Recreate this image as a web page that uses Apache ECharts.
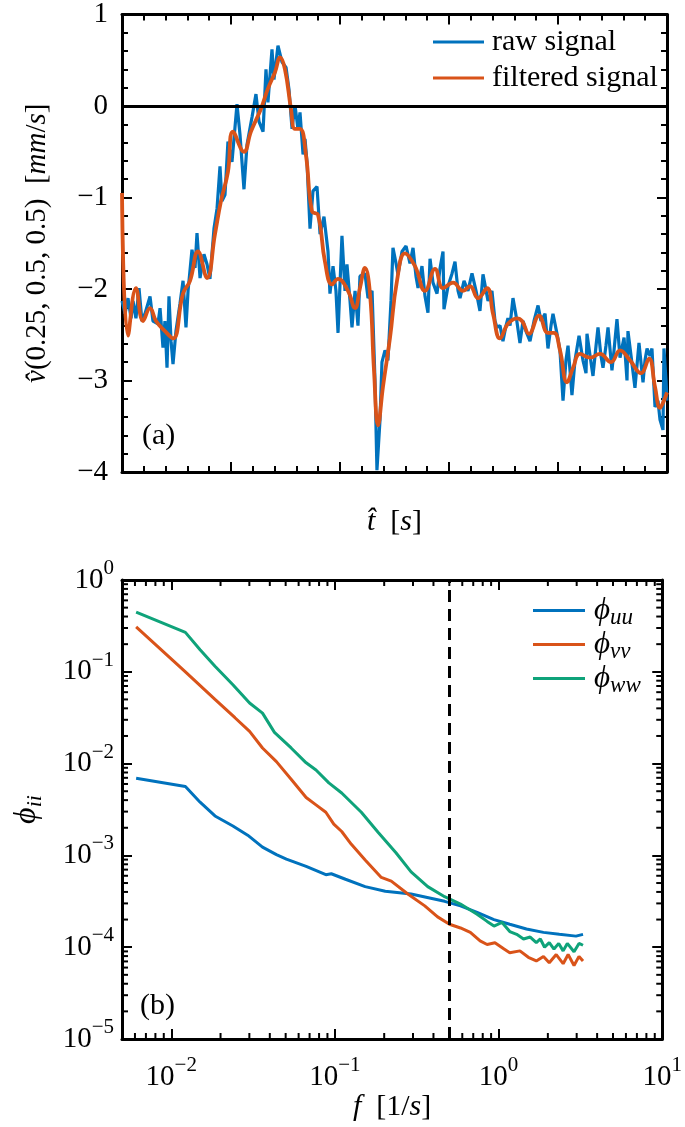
<!DOCTYPE html>
<html><head><meta charset="utf-8">
<script src="https://cdn.jsdelivr.net/npm/echarts@6/dist/echarts.min.js"></script>
<style>html,body{margin:0;padding:0;background:#fff}#c{width:685px;height:1127px}</style>
</head><body><div id="c"></div><script>
// ---- panel (a): time signal ----
const rawT = [0,0.28,0.55,0.83,1.01,1.28,1.56,1.83,2.11,2.57,2.84,3.30,3.49,3.76,3.94,4.13,4.31,4.50,4.68,4.95,5.32,5.60,5.87,6.06,6.42,6.70,6.88,7.16,7.52,7.80,8.07,8.44,8.72,8.99,9.17,9.45,9.72,10.09,10.55,10.83,11.19,11.47,11.93,12.29,12.57,12.94,13.21,13.39,13.76,13.94,14.31,14.68,15.05,15.32,15.60,15.87,16.15,16.33,16.61,16.79,16.97,17.25,17.52,17.89,18.17,18.53,18.90,19.08,19.36,19.63,19.82,20.18,20.46,20.64,20.92,21.10,21.38,21.65,21.83,22.29,22.57,22.94,23.21,23.39,23.67,23.85,24.13,24.40,24.68,24.86,25.14,25.32,25.69,26.06,26.42,26.70,26.97,27.16,27.52,27.80,28.07,28.26,28.53,28.90,29.17,29.45,29.54,29.91,30.28,30.55,30.83,31.01,31.38,31.74,32.11,32.48,32.84,33.12,33.30,33.58,33.94,34.22,34.40,34.68,34.95,35.23,35.41,35.60,35.87,36.15,36.51,36.79,37.06,37.43,37.80,38.17,38.44,38.81,39.08,39.36,39.54,39.91,40.18,40.46,40.73,40.92,41.28,41.56,41.93,42.29,42.57,42.66,42.94,43.21,43.49,43.67,43.94,44.13,44.40,44.59,44.95,45.14,45.41,45.69,46.06,46.33,46.42,46.70,47.06,47.43,47.80,47.98,48.17,48.44,48.62,48.90,49.17,49.36,49.63,49.72,49.91,50.00];
const rawV = [-2.13,-2.27,-2.10,-2.32,-2.13,-2.32,-1.99,-2.35,-2.27,-2.08,-2.35,-2.38,-2.21,-2.64,-2.35,-2.86,-2.08,-2.57,-2.82,-2.46,-2.16,-1.91,-2.42,-2.02,-1.57,-1.77,-1.39,-1.88,-1.62,-1.73,-1.89,-1.34,-1.12,-0.66,-1.04,-0.97,-0.39,-0.61,0.02,-0.32,-0.91,-0.42,-0.12,0.13,-0.17,-0.28,0.40,0.04,0.62,0.29,0.66,0.48,0.42,0.18,-0.25,0.01,-0.26,-0.07,-0.53,-0.36,-0.61,-1.34,-0.93,-0.88,-1.40,-1.21,-1.59,-2.05,-1.75,-2.02,-2.48,-1.42,-2.02,-1.73,-2.13,-2.42,-2.02,-2.40,-1.86,-1.83,-2.10,-2.02,-3.00,-3.98,-3.43,-2.80,-2.67,-2.78,-2.13,-1.55,-1.72,-1.84,-1.59,-1.53,-1.72,-1.55,-1.86,-1.99,-1.75,-2.08,-2.26,-1.67,-1.93,-2.05,-1.78,-1.59,-2.22,-1.97,-1.83,-1.70,-2.02,-2.10,-1.91,-2.02,-1.83,-2.02,-2.24,-1.84,-1.84,-2.13,-2.02,-2.35,-2.42,-2.40,-2.57,-2.40,-2.32,-2.40,-2.10,-2.29,-2.59,-2.35,-2.46,-2.57,-2.35,-2.18,-2.35,-2.27,-2.65,-2.40,-2.27,-2.49,-2.67,-3.22,-2.78,-2.62,-3.16,-2.78,-2.51,-2.78,-2.92,-2.49,-2.73,-2.95,-2.62,-2.42,-2.73,-2.86,-2.62,-2.42,-2.89,-2.67,-2.33,-2.75,-2.53,-3.00,-2.46,-2.73,-3.08,-2.59,-3.02,-2.78,-2.65,-2.73,-2.65,-3.29,-3.22,-3.43,-3.54,-2.65,-3.00,-3.22];
const filtT = [0,0.55,1.28,1.93,2.57,3.12,3.94,4.68,5.60,6.24,6.97,7.80,8.53,9.08,9.72,10.18,11.19,11.83,12.75,13.39,14.04,14.50,14.95,15.50,15.87,16.33,16.88,17.43,17.98,18.62,19.27,19.82,20.73,21.38,21.83,22.29,22.75,23.12,23.49,23.94,24.59,25.23,25.96,26.88,27.80,28.72,29.45,30.37,31.28,31.93,32.66,33.49,34.04,34.68,35.41,36.24,36.70,37.34,38.26,39.08,39.63,40.18,40.83,41.38,42.02,42.94,43.85,44.86,45.69,46.61,47.61,48.35,48.90,49.36,49.72,50];
const filtV = [-0.95,-2.51,-1.99,-2.35,-2.21,-2.35,-2.46,-2.54,-2.05,-1.91,-1.59,-1.88,-1.40,-1.04,-0.72,-0.28,-0.50,-0.28,-0.03,0.19,0.37,0.53,0.40,-0.03,-0.25,-0.25,-0.54,-1.15,-1.19,-1.70,-1.95,-1.89,-2.02,-2.21,-1.99,-1.77,-2.05,-2.89,-3.49,-3.07,-2.53,-1.91,-1.61,-1.75,-2.02,-1.78,-1.99,-1.93,-2.02,-1.97,-2.10,-1.99,-2.27,-2.54,-2.38,-2.32,-2.35,-2.49,-2.29,-2.48,-2.48,-2.67,-3.02,-2.86,-2.71,-2.75,-2.71,-2.80,-2.67,-2.78,-2.92,-2.76,-3.07,-3.30,-3.22,-3.13];

// ---- panel (b): spectra ----
const fUU = [0.0061,0.0122,0.0150,0.0185,0.0238,0.0293,0.0361,0.0439,0.0505,0.0667,0.088,0.095,0.116,0.153,0.203,0.292,0.468,0.585,0.739,0.937,1.17,1.48,1.88,2.35,2.97,3.28];
const phiUU = [0.00692,0.00562,0.0038,0.00269,0.00209,0.00166,0.00123,0.00102,0.000912,0.000759,0.000617,0.000631,0.00055,0.000457,0.000407,0.00038,0.000316,0.000282,0.00024,0.0002,0.000178,0.000158,0.000145,0.000138,0.000132,0.000138];
const fVV = [0.0061,0.0122,0.0185,0.0245,0.0301,0.0361,0.0439,0.054,0.0667,0.0766,0.088,0.0984,0.110,0.126,0.153,0.192,0.221,0.279,0.354,0.424,0.501,0.585,0.672,0.771,0.851,0.95,1.08,1.17,1.35,1.52,1.70,1.88,2.04,2.25,2.48,2.66,2.89,3.10,3.28];
const phiVV = [0.309,0.100,0.0501,0.0316,0.0224,0.0148,0.0105,0.00676,0.00427,0.00355,0.00295,0.00219,0.00182,0.00132,0.000891,0.000575,0.000525,0.00038,0.000282,0.000214,0.000178,0.000162,0.000145,0.000117,0.000107,0.000112,0.0000955,0.0000871,0.0000912,0.0000776,0.0000708,0.0000794,0.0000676,0.0000832,0.0000661,0.0000832,0.0000631,0.0000794,0.0000708];
const fWW = [0.0061,0.0122,0.0150,0.0185,0.0238,0.0301,0.0361,0.0427,0.054,0.0667,0.0766,0.0918,0.110,0.145,0.184,0.236,0.292,0.369,0.468,0.585,0.739,0.851,0.937,1.05,1.17,1.29,1.42,1.56,1.70,1.80,1.91,2.04,2.18,2.33,2.48,2.63,2.89,3.10,3.28];
const phiWW = [0.447,0.269,0.174,0.115,0.0724,0.0457,0.0355,0.0219,0.0148,0.0102,0.00851,0.00617,0.00479,0.00295,0.00178,0.00107,0.000661,0.000457,0.000355,0.000295,0.000229,0.000191,0.00017,0.000186,0.000148,0.000138,0.000123,0.000129,0.000112,0.000123,0.0001,0.000112,0.0000955,0.00011,0.0000912,0.00011,0.0000891,0.00011,0.000105];
const cutoffF = 0.5;

// axis extents
const tMin = 0, tMax = 50, tStep = 10;
const vMin = -4, vMax = 1, vStep = 1;
const fMin = 0.005, fMax = 10;
const pMin = 1e-5, pMax = 1;

const F = '"Liberation Serif","DejaVu Serif",serif';
const FS = 29;
const C_BLUE = '#0072BD', C_ORANGE = '#D95319', C_GREEN = '#0FA37A';

const zip = (a, b) => a.map((x, i) => [x, b[i]]);

function powLabel(v) {
  const e = Math.log10(v), r = Math.round(e);
  if (Math.abs(e - r) > 1e-6) return '';
  return '{b|10}{s|' + (r < 0 ? '\u2212' + (-r) : String(r)) + '}';
}
const powRich = {
  b: {fontSize: FS, fontFamily: F, color: '#000', lineHeight: 44, verticalAlign: 'middle'},
  s: {fontSize: 21, fontFamily: F, color: '#000', lineHeight: 44, verticalAlign: 'top'}
};

// minor tick values for log axes
function logMinor(lo, hi) {
  const out = [];
  for (let e = Math.floor(Math.log10(lo)); e <= Math.ceil(Math.log10(hi)); e++) {
    for (let k = 2; k <= 9; k++) {
      const v = parseFloat((k * Math.pow(10, e)).toPrecision(6));
      if (v > lo && v < hi) out.push(v);
    }
  }
  return out;
}
const minorData = logMinor(fMin, fMax).map(v => [v, pMin, 0])
  .concat(logMinor(pMin, pMax).map(v => [fMin, v, 1]));

function tickRender(params, api) {
  const kind = api.value(2), L = 6;
  const style = {stroke: '#000', lineWidth: 2};
  if (kind === 0) {
    const x = api.value(0);
    const b = api.coord([x, pMin]), t = api.coord([x, pMax]);
    return {type: 'group', children: [
      {type: 'line', shape: {x1: b[0], y1: b[1], x2: b[0], y2: b[1] - L}, style: style},
      {type: 'line', shape: {x1: t[0], y1: t[1], x2: t[0], y2: t[1] + L}, style: style}]};
  }
  const y = api.value(1);
  const l = api.coord([fMin, y]), r = api.coord([fMax, y]);
  return {type: 'group', children: [
    {type: 'line', shape: {x1: l[0], y1: l[1], x2: l[0] + L, y2: l[1]}, style: style},
    {type: 'line', shape: {x1: r[0], y1: r[1], x2: r[0] - L, y2: r[1]}, style: style}]};
}

const axisLine = {show: true, onZero: false, lineStyle: {color: '#000', width: 3}};
const axisTick = {show: true, inside: true, length: 10, lineStyle: {color: '#000', width: 2}};
const minorTick = {show: true, splitNumber: 5, length: 6, lineStyle: {color: '#000', width: 2}};
const noSplit = {show: false};
const minusFmt = v => (v < 0 ? '\u2212' + (-v) : String(v));
const lblStyle = {color: '#000', fontSize: FS, fontFamily: F};
const italic = {fontStyle: 'italic', fontSize: FS, fontFamily: F, color: '#000'};

const option = {
  animation: false,
  backgroundColor: '#fff',
  grid: [
    {left: 122, right: 18, top: 12, height: 460},
    {left: 122, right: 18, top: 580, height: 459}
  ],
  xAxis: [
    {gridIndex: 0, type: 'value', position: 'bottom', min: tMin, max: tMax, interval: tStep,
     axisLine, axisTick, minorTick, splitLine: noSplit, axisLabel: {show: false},
     name: '{i|t\u0302}  [{i|s}]', nameLocation: 'middle', nameGap: 35,
     nameTextStyle: {fontSize: 30, fontFamily: F, color: '#000', rich: {i: Object.assign({}, italic, {fontSize: 30})}}},
    {gridIndex: 0, type: 'value', position: 'top', min: tMin, max: tMax, interval: tStep,
     axisLine, axisTick, minorTick, splitLine: noSplit, axisLabel: {show: false}},
    {gridIndex: 1, type: 'log', position: 'bottom', min: fMin, max: fMax,
     axisLine, axisTick, splitLine: noSplit,
     axisLabel: {show: true, margin: 16, formatter: powLabel, rich: powRich, ...lblStyle},
     name: '{i|f}  [1/{i|s}]', nameLocation: 'middle', nameGap: 47,
     nameTextStyle: {fontSize: 30, fontFamily: F, color: '#000', rich: {i: Object.assign({}, italic, {fontSize: 30})}}},
    {gridIndex: 1, type: 'log', position: 'top', min: fMin, max: fMax,
     axisLine, axisTick, splitLine: noSplit, axisLabel: {show: false}}
  ],
  yAxis: [
    {gridIndex: 0, type: 'value', position: 'left', min: vMin, max: vMax, interval: vStep,
     axisLine, axisTick, minorTick, splitLine: noSplit,
     axisLabel: {show: true, margin: 14, formatter: minusFmt, ...lblStyle},
     name: '{i|v\u0302}(0.25, 0.5, 0.5)  [{i|mm}/{i|s}]', nameLocation: 'middle', nameGap: 70, nameRotate: 90,
     nameTextStyle: {fontSize: FS, fontFamily: F, color: '#000', rich: {i: italic}}},
    {gridIndex: 0, type: 'value', position: 'right', min: vMin, max: vMax, interval: vStep,
     axisLine, axisTick, minorTick, splitLine: noSplit, axisLabel: {show: false}},
    {gridIndex: 1, type: 'log', position: 'left', min: pMin, max: pMax,
     axisLine, axisTick, splitLine: noSplit,
     axisLabel: {show: true, margin: 8, formatter: powLabel, rich: powRich, ...lblStyle},
     name: '{i|\u03D5}{s|ii}', nameLocation: 'middle', nameGap: 76, nameRotate: 90,
     nameTextStyle: {fontSize: 32, fontFamily: F, color: '#000', rich: {
       i: {fontStyle: 'italic', fontSize: 32, fontFamily: F, color: '#000', lineHeight: 38},
       s: {fontStyle: 'italic', fontSize: 22, fontFamily: F, color: '#000', lineHeight: 38, verticalAlign: 'bottom'}}}},
    {gridIndex: 1, type: 'log', position: 'right', min: pMin, max: pMax,
     axisLine, axisTick, splitLine: noSplit, axisLabel: {show: false}}
  ],
  legend: [
    {data: ['raw signal', 'filtered signal'], orient: 'vertical', left: 428, top: 22,
     icon: 'rect', itemWidth: 51, itemHeight: 3, itemGap: 6, selectedMode: false,
     textStyle: {fontSize: 30, fontFamily: F, color: '#000', padding: [0, 0, 0, 3]}},
    {data: ['uu', 'vv', 'ww'], orient: 'vertical', left: 528, top: 590,
     icon: 'rect', itemWidth: 52, itemHeight: 3, itemGap: 0, selectedMode: false,
     formatter: n => '{i|\u03D5}{s|' + n + '}',
     textStyle: {fontSize: 31, fontFamily: F, color: '#000', padding: [0, 0, 0, 4], rich: {
       i: {fontStyle: 'italic', fontSize: 31, fontFamily: F, color: '#000', lineHeight: 37},
       s: {fontStyle: 'italic', fontSize: 23, fontFamily: F, color: '#000', lineHeight: 37, verticalAlign: 'bottom'}}}}
  ],
  graphic: [
    {type: 'text', left: 142, top: 421, style: {text: '(a)', font: '30px ' + F, fill: '#000'}},
    {type: 'text', left: 140, top: 991, style: {text: '(b)', font: '30px ' + F, fill: '#000'}}
  ],
  series: [
    {name: 'raw signal', type: 'line', xAxisIndex: 0, yAxisIndex: 0, data: zip(rawT, rawV),
     symbol: 'none', lineStyle: {color: C_BLUE, width: 3.2}, itemStyle: {color: C_BLUE},
     markLine: {symbol: 'none', silent: true, label: {show: false},
       lineStyle: {color: '#000', width: 3, type: 'solid'}, data: [{yAxis: 0}]}},
    {name: 'filtered signal', type: 'line', xAxisIndex: 0, yAxisIndex: 0, data: zip(filtT, filtV),
     symbol: 'none', smooth: 0.45, lineStyle: {color: C_ORANGE, width: 3.8}, itemStyle: {color: C_ORANGE}},
    {name: 'uu', type: 'line', xAxisIndex: 2, yAxisIndex: 2, data: zip(fUU, phiUU),
     symbol: 'none', lineStyle: {color: C_BLUE, width: 3}, itemStyle: {color: C_BLUE},
     markLine: {symbol: 'none', silent: true, label: {show: false},
       lineStyle: {color: '#000', width: 3, type: [12, 7]}, data: [{xAxis: cutoffF}]}},
    {name: 'vv', type: 'line', xAxisIndex: 2, yAxisIndex: 2, data: zip(fVV, phiVV),
     symbol: 'none', lineStyle: {color: C_ORANGE, width: 3}, itemStyle: {color: C_ORANGE}},
    {name: 'ww', type: 'line', xAxisIndex: 2, yAxisIndex: 2, data: zip(fWW, phiWW),
     symbol: 'none', lineStyle: {color: C_GREEN, width: 3}, itemStyle: {color: C_GREEN}},
    {name: 'minor', type: 'custom', xAxisIndex: 2, yAxisIndex: 2, silent: true, z: 5,
     dimensions: ['x', 'y', 'k'], encode: {x: 0, y: 1}, data: minorData, renderItem: tickRender}
  ]
};
const chart = echarts.init(document.getElementById('c'), null, {renderer: 'canvas'});
chart.setOption(option);
</script></body></html>
